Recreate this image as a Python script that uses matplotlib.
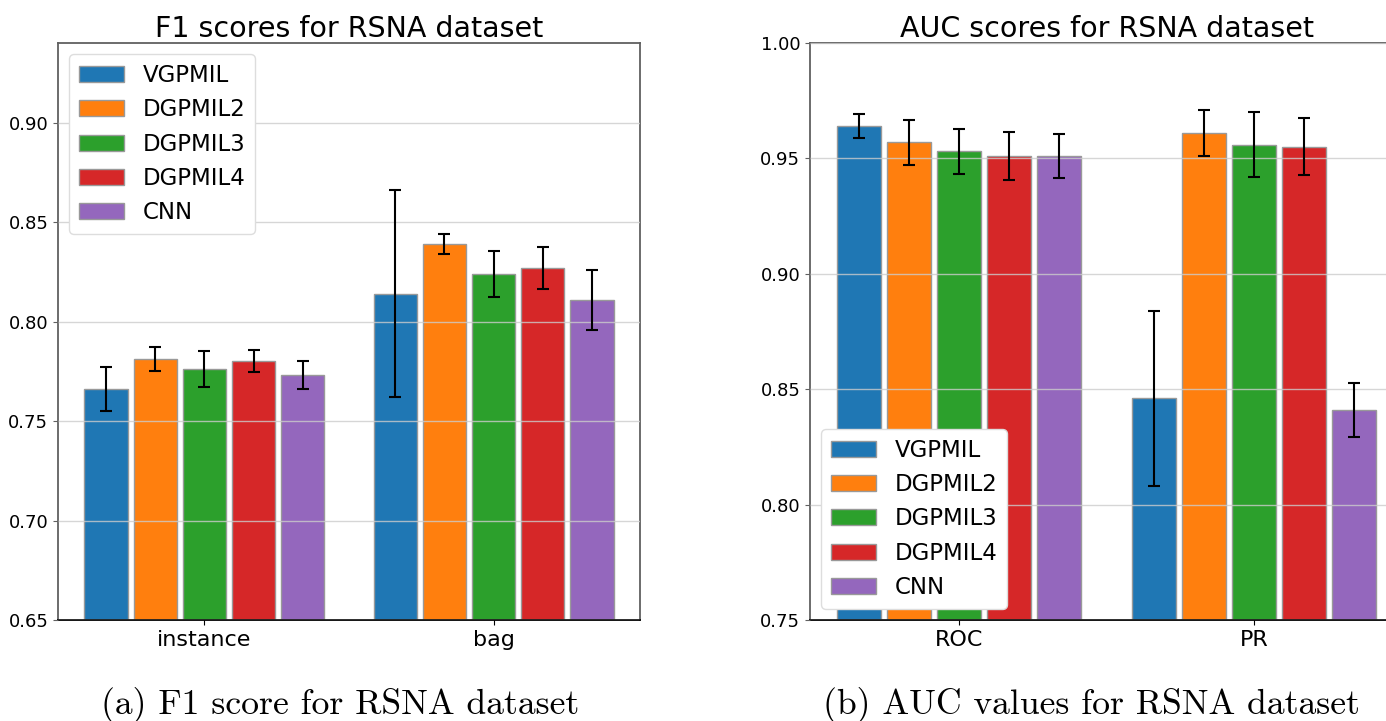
import matplotlib
matplotlib.use("Agg")
import matplotlib.pyplot as plt
import numpy as np

methods = ["VGPMIL", "DGPMIL2", "DGPMIL3", "DGPMIL4", "CNN"]
colors = ["#1f77b4", "#ff7f0e", "#2ca02c", "#d62728", "#9467bd"]

f1_groups = ["instance", "bag"]
f1_vals = {
    "VGPMIL": [0.766, 0.814],
    "DGPMIL2": [0.781, 0.839],
    "DGPMIL3": [0.776, 0.824],
    "DGPMIL4": [0.780, 0.827],
    "CNN": [0.773, 0.811],
}
f1_errs = {
    "VGPMIL": [0.011, 0.052],
    "DGPMIL2": [0.006, 0.005],
    "DGPMIL3": [0.009, 0.0115],
    "DGPMIL4": [0.0055, 0.0105],
    "CNN": [0.007, 0.015],
}

auc_groups = ["ROC", "PR"]
auc_vals = {
    "VGPMIL": [0.964, 0.846],
    "DGPMIL2": [0.957, 0.961],
    "DGPMIL3": [0.953, 0.956],
    "DGPMIL4": [0.951, 0.955],
    "CNN": [0.951, 0.841],
}
auc_errs = {
    "VGPMIL": [0.0052, 0.0378],
    "DGPMIL2": [0.0098, 0.0098],
    "DGPMIL3": [0.0098, 0.014],
    "DGPMIL4": [0.0105, 0.0124],
    "CNN": [0.0097, 0.0117],
}

W, H = 1386, 721
fig = plt.figure(figsize=(W / 100, H / 100), dpi=100)

def px_axes(x0, x1, ytop, ybot):
    return fig.add_axes([x0 / W, (H - ybot) / H, (x1 - x0) / W, (ybot - ytop) / H])

ax1 = px_axes(58, 640, 43, 620)
ax2 = px_axes(810, 1403, 43, 620)

pitch = 0.17
bw = 0.15

def draw(ax, groups, vals, errs, ylim, yticks, title, legend_loc):
    x = np.arange(len(groups))
    for i, m in enumerate(methods):
        off = (i - 2) * pitch
        ax.bar(x + off, vals[m], bw, color=colors[i], edgecolor="#999999",
               linewidth=1.0, label=m, zorder=1)
        ax.errorbar(x + off, vals[m], yerr=errs[m], fmt="none", ecolor="black",
                    elinewidth=1.5, capsize=4.5, capthick=1.5, zorder=3)
    ax.set_xticks(x)
    ax.set_xticklabels(groups, fontsize=16)
    ax.set_ylim(*ylim)
    ax.set_yticks(yticks)
    ax.set_yticklabels([f"{t:.2f}" for t in yticks], fontsize=13)
    ax.set_axisbelow(False)
    ax.grid(axis="y", color="#cccccc", linewidth=1.0, alpha=0.8, zorder=2)
    ax.set_title(title, fontsize=20.5, pad=4)
    for s in ["top", "left", "right"]:
        ax.spines[s].set_color("#606060")
        ax.spines[s].set_linewidth(1.3)
    ax.spines["bottom"].set_color("black")
    ax.spines["bottom"].set_linewidth(1.3)
    ax.tick_params(axis="y", colors="#606060", labelcolor="black")
    ax.legend(loc=legend_loc, fontsize=16.5, framealpha=1.0, edgecolor="#dddddd")

draw(ax1, f1_groups, f1_vals, f1_errs, (0.65, 0.94),
     [0.65, 0.70, 0.75, 0.80, 0.85, 0.90], "F1 scores for RSNA dataset", "upper left")
draw(ax2, auc_groups, auc_vals, auc_errs, (0.75, 1.00),
     [0.75, 0.80, 0.85, 0.90, 0.95, 1.00], "AUC scores for RSNA dataset", "lower left")

fig.text(340 / W, (H - 705) / H, "(a) F1 score for RSNA dataset",
         family="cmr10", fontsize=25.7, ha="center", va="center")
fig.text(1091 / W, (H - 705) / H, "(b) AUC values for RSNA dataset",
         family="cmr10", fontsize=25.7, ha="center", va="center")

fig.savefig("out.png", dpi=100)
